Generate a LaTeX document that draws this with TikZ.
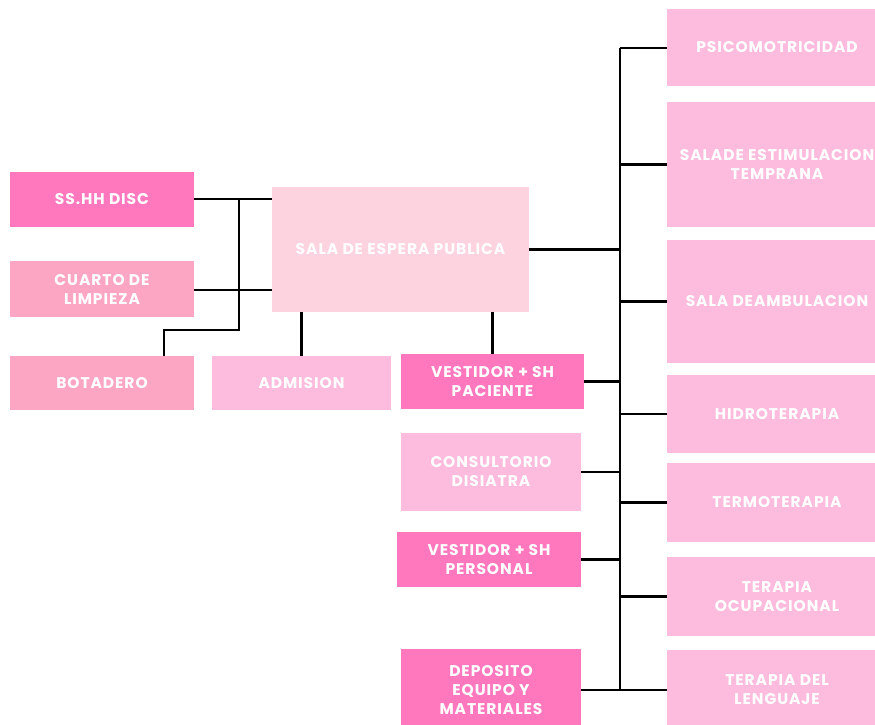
\documentclass[tikz,border=0pt]{standalone}
\usepackage{fontspec}
\newfontfamily\boxfont{Poppins}[LetterSpace=6.0]
\definecolor{hot}{HTML}{FF78BE}
\definecolor{rose}{HTML}{FCA6C3}
\definecolor{pale}{HTML}{FDD3DF}
\definecolor{soft}{HTML}{FDBBDD}
\tikzset{
  room/.style={rectangle, inner sep=0pt, outer sep=0pt, align=center,
    text=white, font=\boxfont\bfseries\fontsize{15.5}{19}\selectfont},
  wire/.style={draw=black, line width=2.2pt}
}
\begin{document}
\begin{tikzpicture}[x=1pt,y=-1pt]
\useasboundingbox (0,0) rectangle (875,725);
\clip (0,0) rectangle (875,725);
% left column
\node[room, fill=hot,  minimum width=184pt, minimum height=55pt] (sshh) at (102,199.5) {SS.HH DISC};
\node[room, fill=rose, minimum width=184pt, minimum height=56pt] (cuarto) at (102,289) {CUARTO DE\\LIMPIEZA};
\node[room, fill=rose, minimum width=184pt, minimum height=54pt] (bota) at (102,383) {BOTADERO};
\node[room, fill=soft, minimum width=179pt, minimum height=54pt] (admi) at (301.5,383) {ADMISION};
\node[room, fill=pale, minimum width=257pt, minimum height=125pt] (sala) at (400.5,249.5) {SALA DE ESPERA PUBLICA};
% middle column
\node[room, fill=hot,  minimum width=183pt, minimum height=55pt] (vpac) at (492.5,381.5) {VESTIDOR + SH\\PACIENTE};
\node[room, fill=soft, minimum width=180pt, minimum height=78pt] (cons) at (491,472) {CONSULTORIO\\DISIATRA};
\node[room, fill=hot,  minimum width=184pt, minimum height=55pt] (vper) at (489,559.5) {VESTIDOR + SH\\PERSONAL};
\node[room, fill=hot,  minimum width=180pt, minimum height=82pt] (depo) at (491,690) {DEPOSITO\\EQUIPO Y\\MATERIALES};
% right column
\node[room, fill=soft, minimum width=220pt, minimum height=77pt] (psico) at (777,47.5) {PSICOMOTRICIDAD};
\node[room, fill=soft, minimum width=220pt, minimum height=125pt] (estim) at (777,164.5) {SALADE ESTIMULACION\\TEMPRANA};
\node[room, fill=soft, minimum width=220pt, minimum height=123pt] (deamb) at (777,301.5) {SALA DEAMBULACION};
\node[room, fill=soft, minimum width=220pt, minimum height=78pt] (hidro) at (777,414) {HIDROTERAPIA};
\node[room, fill=soft, minimum width=220pt, minimum height=79pt] (termo) at (777,502.5) {TERMOTERAPIA};
\node[room, fill=soft, minimum width=220pt, minimum height=79pt] (ocup) at (777,596.5) {TERAPIA\\OCUPACIONAL};
\node[room, fill=soft, minimum width=220pt, minimum height=80pt] (leng) at (777,690) {TERAPIA DEL\\LENGUAJE};
% connectors
\coordinate (lj1) at (239,199);
\coordinate (lj2) at (239,290);
\coordinate (lj3) at (239,330);
\coordinate (lj4) at (164,330);
\draw[wire] (sshh.east |- lj1) -- (sala.west |- lj1);
\draw[wire] (cuarto.east |- lj2) -- (sala.west |- lj2);
\draw[wire] (lj1) -- (lj3) -- (lj4) -- (lj4 |- bota.north);
\draw[wire] (admi.north) -- (admi.north |- sala.south);
\draw[wire] (sala.south -| vpac.north) -- (vpac.north);
\coordinate (stop) at (620,48);
\coordinate (sbot) at (620,690);
\draw[wire] (stop) -- (sbot);
\draw[wire] (sala.east) -- (sala.east -| stop);
\draw[wire] (stop) -- (psico.west |- stop);
\draw[wire] (estim.west) -- (estim.west -| stop);
\draw[wire] (deamb.west) -- (deamb.west -| stop);
\draw[wire] (hidro.west) -- (hidro.west -| stop);
\draw[wire] (termo.west) -- (termo.west -| stop);
\draw[wire] (ocup.west) -- (ocup.west -| stop);
\draw[wire] (leng.west |- sbot) -- (sbot);
\draw[wire] (vpac.east) -- (vpac.east -| stop);
\draw[wire] (cons.east) -- (cons.east -| stop);
\draw[wire] (vper.east) -- (vper.east -| stop);
\draw[wire] (depo.east |- sbot) -- (sbot);
\end{tikzpicture}
\end{document}
